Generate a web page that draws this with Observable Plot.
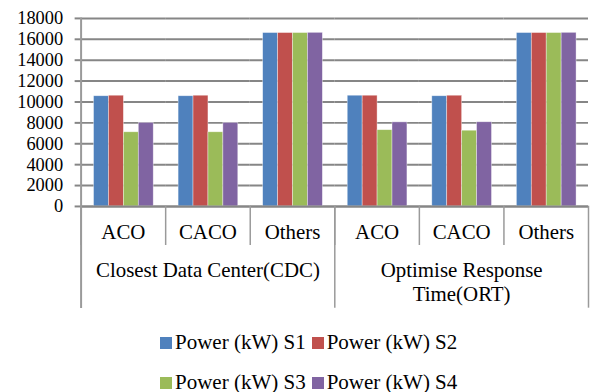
<!DOCTYPE html>
<html>
<head>
<meta charset="utf-8">
<script src="https://cdn.jsdelivr.net/npm/d3@7"></script>
<script src="https://cdn.jsdelivr.net/npm/@observablehq/plot@0.6"></script>
<style>
  html, body { margin: 0; padding: 0; background: #fff; overflow: hidden; }
  #chart { position: relative; width: 590px; height: 392px; font-family: "Liberation Serif", "Times New Roman", serif; }
  #chart svg text { font-family: "Liberation Serif", "Times New Roman", serif; }
  #legend { position: absolute; left: 160px; top: 322px; font-size: 21px; color: #000; }
  .row { display: flex; align-items: center; height: 40px; }
  .item { display: flex; align-items: center; margin-right: 6px; }
  .sw { width: 12px; height: 12px; margin-right: 3px; margin-top: 1px; }
</style>
</head>
<body>
<div id="chart"></div>
<script>
const groupKeys = ["CDC", "ORT"];
const groupNames = ["Closest Data Center(CDC)", "Optimise Response\nTime(ORT)"];
const subcats = ["ACO", "CACO", "Others"];
const series = ["Power (kW) S1", "Power (kW) S2", "Power (kW) S3", "Power (kW) S4"];
const colors = ["#4F81BD", "#C0504D", "#9BBB59", "#8064A2"];
// values per category, order: CDC ACO, CDC CACO, CDC Others, ORT ACO, ORT CACO, ORT Others
const s1 = [10550, 10550, 16600, 10600, 10550, 16600];
const s2 = [10600, 10600, 16600, 10600, 10600, 16600];
const s3 = [7100, 7100, 16600, 7300, 7250, 16600];
const s4 = [8000, 8000, 16620, 8050, 8060, 16620];
const yTicks = [0, 2000, 4000, 6000, 8000, 10000, 12000, 14000, 16000, 18000];

const keys = groupKeys.flatMap(g => subcats.map(s => g + "|" + s));
const cats = keys.map((k, i) => ({key: k, sub: subcats[i % 3]}));
const seriesValues = [s1, s2, s3, s4];
const table = [];
keys.forEach((k, i) => series.forEach((s, j) => table.push({key: k, series: s, value: seriesValues[j][i]})));

const W = 593, H = 320, mT = 18, mB = 113, mL = 79;
const plotH = H - mT - mB;
const grid = "#868686";
const sep = "#9a9a9a";
const serif = '"Liberation Serif", "Times New Roman", serif';
const fs = 21;

const chart = Plot.plot({
  width: W, height: H,
  marginLeft: mL, marginRight: 0, marginTop: mT, marginBottom: mB,
  style: {fontFamily: serif, fontSize: fs + "px", background: "transparent", overflow: "visible", color: "#000"},
  fx: {domain: keys, padding: 0, axis: null},
  x: {domain: series, paddingInner: 0, paddingOuter: 0.75, axis: null},
  y: {domain: [0, 18000], axis: null},
  color: {domain: series, range: colors},
  marks: [
    Plot.gridY(yTicks, {stroke: grid, strokeOpacity: 1, strokeWidth: 2}),
    Plot.barY(table, {fx: "key", x: "series", y: "value", fill: "series", stroke: "#fff", strokeOpacity: 0.55, strokeWidth: 0.7}),
    Plot.ruleY([0], {stroke: grid, strokeWidth: 2}),
    Plot.axisY(yTicks, {tickSize: 6, tickPadding: 12, stroke: grid, strokeWidth: 2, fill: "#000", fontSize: 18.5, label: null, tickFormat: d => String(d)}),
    Plot.frame({anchor: "left", stroke: sep, strokeWidth: 1.5, insetTop: plotH, insetBottom: -38}),
    Plot.frame({anchor: "left", fx: "CDC|ACO", stroke: sep, strokeWidth: 2, insetBottom: -101}),
    Plot.frame({anchor: "left", fx: "ORT|ACO", stroke: sep, strokeWidth: 1.5, insetTop: plotH, insetBottom: -101}),
    Plot.frame({anchor: "right", fx: "ORT|Others", stroke: sep, strokeWidth: 1.5, insetTop: plotH, insetBottom: -101}),
    Plot.text(cats, {fx: "key", text: "sub", frameAnchor: "bottom", lineAnchor: "middle", dy: 26, fontSize: fs, fill: "#000"}),
    Plot.text([{key: "CDC|CACO", name: groupNames[0]}], {fx: "key", text: "name", frameAnchor: "bottom", lineAnchor: "middle", dy: 64, fontSize: fs, fill: "#000"}),
    Plot.text([{key: "ORT|CACO", name: groupNames[1]}], {fx: "key", text: "name", frameAnchor: "bottom", lineAnchor: "middle", dy: 75.5, lineHeight: 1.11, fontSize: fs, fill: "#000"})
  ]
});
const root = document.getElementById("chart");
root.appendChild(chart);

const legend = document.createElement("div");
legend.id = "legend";
for (let r = 0; r < 2; r++) {
  const row = document.createElement("div");
  row.className = "row";
  for (let c = 0; c < 2; c++) {
    const j = r * 2 + c;
    const item = document.createElement("div");
    item.className = "item";
    const sw = document.createElement("span");
    sw.className = "sw";
    sw.style.background = colors[j];
    const t = document.createElement("span");
    t.textContent = series[j];
    item.appendChild(sw); item.appendChild(t);
    row.appendChild(item);
  }
  legend.appendChild(row);
}
root.appendChild(legend);
</script>
</body>
</html>
